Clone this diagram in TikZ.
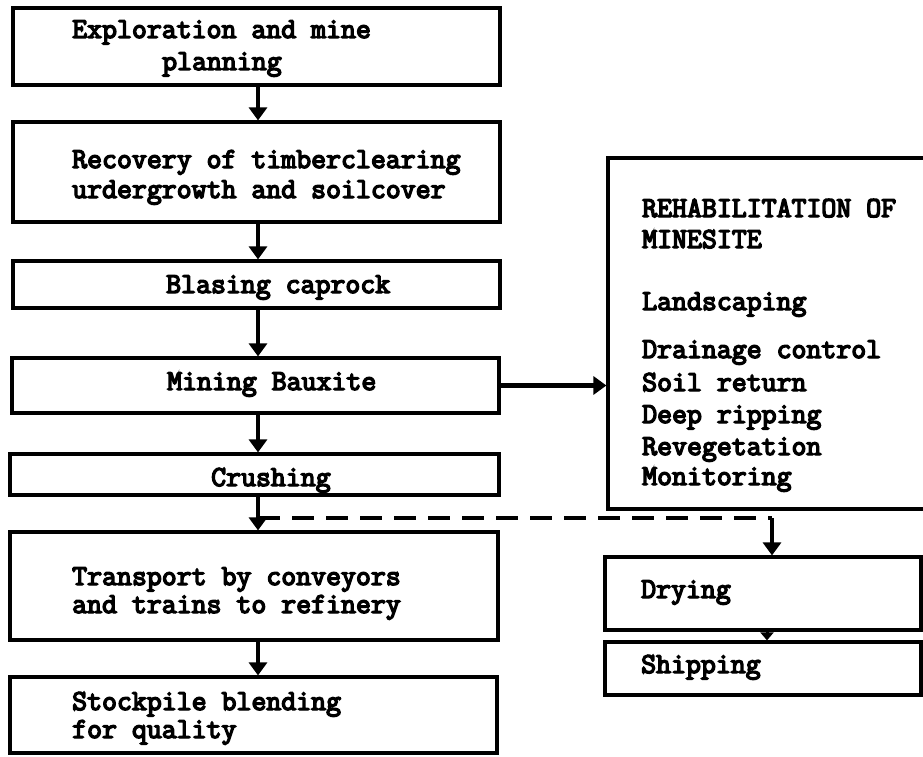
\documentclass[tikz,border=0pt]{standalone}
\usepackage{fontspec}
\newfontfamily\twfont[FakeBold=5]{Latin Modern Mono}
\usetikzlibrary{arrows.meta}
\begin{document}
\begin{tikzpicture}[x=1pt,y=-1pt,
  box/.style={draw=black, line width=3.2pt, inner sep=0pt, rectangle},
  lbl/.style={anchor=base west, inner sep=0pt, font=\fontsize{29}{30}\twfont},
  arr/.style={line width=4.5pt, -{Triangle[width=18pt,length=13pt]}},
  smallarr/.style={line width=3pt, -{Triangle[width=13pt,length=8pt]}},
  dashline/.style={line width=3.2pt, dash pattern=on 22pt off 12pt}
]
\fill[white] (0,0) rectangle (923,757);
\useasboundingbox (0,0) rectangle (923,757);

% boxes
\node[box, minimum width=487pt, minimum height=77pt]  (b1) at (256.5,46.5) {};
\node[box, minimum width=487pt, minimum height=100pt] (b2) at (256.5,172) {};
\node[box, minimum width=487pt, minimum height=47pt]  (b3) at (256.5,284.5) {};
\node[box, minimum width=487pt, minimum height=55pt]  (b4) at (255.5,385.5) {};
\node[box, minimum width=489pt, minimum height=41pt]  (b5) at (254.5,474.5) {};
\node[box, minimum width=488pt, minimum height=108pt] (b6) at (254,586) {};
\node[box, minimum width=487pt, minimum height=76pt]  (b7) at (253.5,715) {};
\node[box, minimum width=327pt, minimum height=351pt] (r)  at (771.5,333.5) {};
\node[box, minimum width=316pt, minimum height=73pt]  (d)  at (763,593.5) {};
\node[box, minimum width=316pt, minimum height=53pt]  (s)  at (763,668.5) {};

% texts
\node[lbl] (t1a) at (72,38)  {Exploration and mine};
\node[lbl] (t1b) at (162,70) {planning};
\node[lbl] (t2a) at (72,168) {Recovery of timberclearing};
\node[lbl] (t2b) at (72,198) {urdergrowth and soilcover};
\node[lbl] (t3)  at (166,293) {Blasing caprock};
\node[lbl] (t4)  at (167,390) {Mining Bauxite};
\node[lbl] (t5)  at (211,486) {Crushing};
\node[lbl] (t6a) at (72,585) {Transport by conveyors};
\node[lbl] (t6b) at (72,613) {and trains to refinery};
\node[lbl] (t7a) at (72,710) {Stockpile blending};
\node[lbl] (t7b) at (72,738) {for quality};
\node[lbl] (r1) at (642,217) {REHABILITATION OF};
\node[lbl] (r2) at (642,248) {MINESITE};
\node[lbl] (r3) at (642,310) {Landscaping};
\node[lbl] (r4) at (642,358) {Drainage control};
\node[lbl] (r5) at (642,391) {Soil return};
\node[lbl] (r6) at (642,423) {Deep ripping};
\node[lbl] (r7) at (642,455) {Revegetation};
\node[lbl] (r8) at (642,485) {Monitoring};
\node[lbl] (td) at (641,598) {Drying};
\node[lbl] (ts) at (641,673) {Shipping};

% connectors
\coordinate (ax) at (258,0);
\draw[arr] (b1.south -| ax) -- (b2.north -| ax);
\draw[arr] (b2.south -| ax) -- (b3.north -| ax);
\draw[arr] (b3.south -| ax) -- (b4.north -| ax);
\draw[arr] (b4.south -| ax) -- (b5.north -| ax);
\draw[arr] (b5.south -| ax) -- (b6.north -| ax);
\draw[arr] (b6.south -| ax) -- (b7.north -| ax);
\draw[arr] (b4.east) -- (b4.east -| r.west);

\coordinate (br) at (258,518);
\coordinate (bx) at (772,518);
\draw[dashline] (br) -- (bx);
\draw[arr] (bx) -- (bx |- d.north);

\coordinate (sx) at (767,0);
\draw[smallarr] (d.south -| sx) -- (s.north -| sx);
\end{tikzpicture}
\end{document}
